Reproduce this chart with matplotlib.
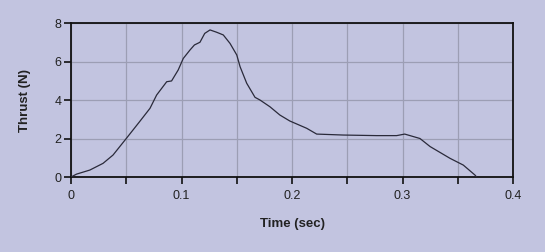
import numpy as np
import matplotlib
matplotlib.use("Agg")
import matplotlib.pyplot as plt

# thrust curve
time_s = [0.0, 0.005, 0.017, 0.029, 0.038, 0.050, 0.062, 0.0715, 0.0775, 0.0866,
          0.091, 0.097, 0.1016, 0.1077, 0.1117, 0.1167, 0.121, 0.1258, 0.1318,
          0.1378, 0.1439, 0.150, 0.153, 0.159, 0.1665, 0.171, 0.180, 0.189,
          0.198, 0.2133, 0.2223, 0.2464, 0.2766, 0.2947, 0.302, 0.3068, 0.3158,
          0.325, 0.343, 0.355, 0.3656, 0.367]
thrust_n = [0.0, 0.15, 0.36, 0.71, 1.14, 2.0, 2.87, 3.57, 4.26, 4.95,
            4.99, 5.56, 6.16, 6.6, 6.86, 7.0, 7.46, 7.64, 7.52,
            7.38, 6.94, 6.34, 5.73, 4.87, 4.14, 4.0, 3.65, 3.22,
            2.91, 2.53, 2.23, 2.18, 2.15, 2.15, 2.23, 2.15, 2.0,
            1.58, 0.97, 0.62, 0.1, 0.0]

x_major = [0, 0.1, 0.2, 0.3, 0.4]
x_major_labels = ["0", "0.1", "0.2", "0.3", "0.4"]
x_minor = [0.05, 0.15, 0.25, 0.35]
y_ticks = [0, 2, 4, 6, 8]

bg = "#c2c4e0"
plt.rcParams['font.family'] = ['Liberation Sans', 'DejaVu Sans']

fig = plt.figure(figsize=(5.45, 2.52), dpi=100, facecolor=bg)
ax = fig.add_axes([0.1303, 0.2976, 0.8110, 0.6111])
ax.set_facecolor(bg)

ax.plot(time_s, thrust_n, color="#2a2a3a", lw=0.9, zorder=3)

ax.set_xlim(0, 0.4)
ax.set_ylim(0, 8)
ax.set_xticks(x_major)
ax.set_xticklabels(x_major_labels)
ax.set_xticks(x_minor, minor=True)
ax.set_yticks(y_ticks)

ax.grid(True, which="both", axis="x", color="#9c9eb4", lw=0.9)
ax.grid(True, which="major", axis="y", color="#9c9eb4", lw=0.9)

for s in ax.spines.values():
    s.set_color("#111111")
    s.set_linewidth(1.3)

ax.tick_params(axis="both", which="both", direction="out", length=5,
               width=1.2, color="#111111", labelsize=9, labelcolor="#222222")
ax.tick_params(axis="x", pad=4)
ax.tick_params(axis="y", pad=2)

ax.set_xlabel("Time (sec)", fontsize=9.5, fontweight="bold", color="#222222",
              labelpad=12)
ax.set_ylabel("Thrust (N)", fontsize=9.5, fontweight="bold", color="#222222",
              labelpad=17)

fig.savefig("out.png", dpi=100, facecolor=bg)
